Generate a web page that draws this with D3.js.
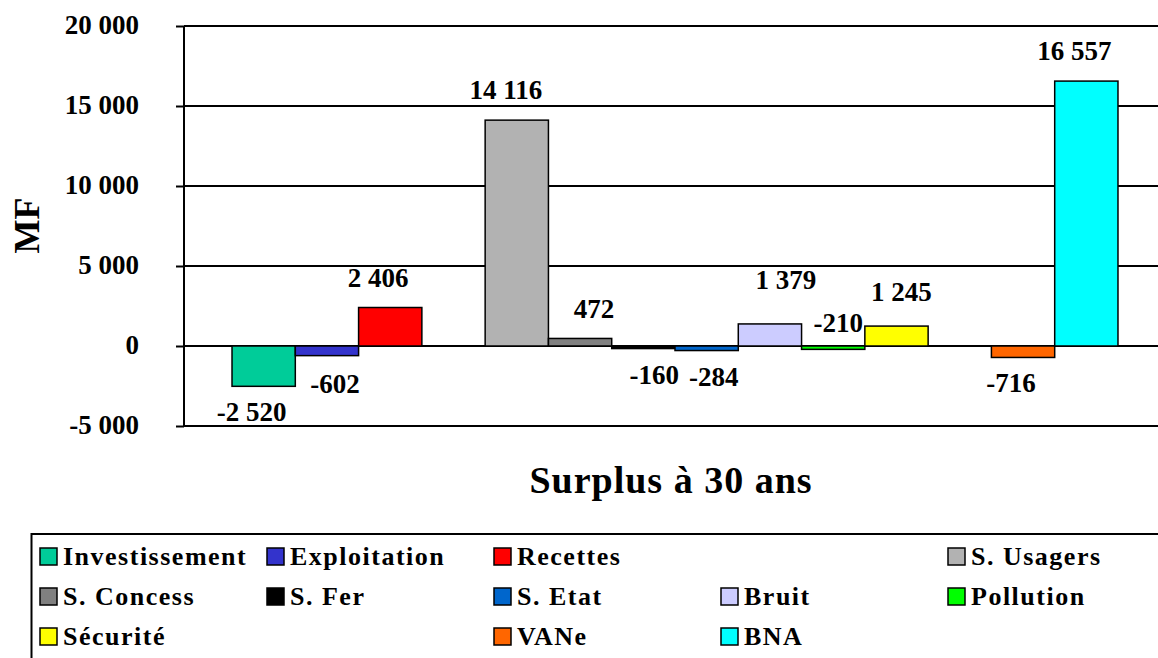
<!DOCTYPE html>
<html>
<head>
<meta charset="utf-8">
<script src="https://cdn.jsdelivr.net/npm/d3@7"></script>
<style>
  svg text { font-family: "Liberation Serif", "Times New Roman", serif !important; font-weight: 700; }
</style>
</head>
<body style="margin:0">
<svg id="chart" width="1158" height="658" font-family="Liberation Serif, serif"></svg>
<script>
// ---- data ----
const categories = ["Surplus à 30 ans"];
const seriesNames = ["Investissement", "Exploitation", "Recettes", "", "S. Usagers",
                     "S. Concess", "S. Fer", "S. Etat", "Bruit", "Pollution",
                     "Sécurité", "", "VANe", "BNA"];
const seriesValues = [-2520, -602, 2406, null, 14116,
                      472, -160, -284, 1379, -210,
                      1245, null, -716, 16557];
const seriesColors = ["#00CC99", "#3333CC", "#FF0000", null, "#B2B2B2",
                      "#808080", "#000000", "#0066CC", "#CCCCFF", "#00FF00",
                      "#FFFF00", null, "#FF6600", "#00FFFF"];
const yTicks = [-5000, 0, 5000, 10000, 15000, 20000];
const yTitle = "MF";
// label nudges (dx, dy) as placed in the original
const labelNudge = [[-12, 0], [8, 2], [-12, 0], null, [-11, 0],
                    [14, 1], [11, 0], [7, 0], [16, -14], [5, -52],
                    [5, -4], null, [-12, 0], [-12, 0]];

// ---- layout ----
const svg = d3.select("#chart");
const plotLeft = 184, plotRight = 1166, plotTop = 26, plotBottom = 426;

const fr = d3.formatLocale({decimal: ",", thousands: "\u00a0", grouping: [3], currency: ["", ""], minus: "-"});
const fmt = fr.format(",d");

const y = d3.scaleLinear().domain([-5000, 20000]).range([plotBottom, plotTop]);
const x0 = d3.scaleBand().domain(categories).range([plotLeft, plotRight])
  .paddingInner(0).paddingOuter(0.0542);
const idx = d3.range(seriesNames.length);
const x1 = d3.scaleBand().domain(idx).range([0, x0.bandwidth()]).padding(0);

function serifText(sel) {
  return sel.attr("font-family", "Liberation Serif")
    .style("font-family", "'Liberation Serif'")
    .attr("font-weight", "bold").attr("fill", "#000");
}

// gridlines
svg.append("g").selectAll("line").data(yTicks).join("line")
  .attr("x1", plotLeft).attr("x2", 1158)
  .attr("y1", d => y(d)).attr("y2", d => y(d))
  .attr("stroke", "#000").attr("stroke-width", 2);

// axis
const axis = d3.axisLeft(y).tickValues(yTicks).tickSize(8).tickPadding(37).tickFormat(fmt);
const gAxis = svg.append("g").attr("transform", `translate(${plotLeft},0)`).call(axis);
gAxis.attr("font-family", "Liberation Serif").attr("font-size", 27);
gAxis.select(".domain").attr("stroke", "#000").attr("stroke-width", 2)
  .attr("d", `M0,${plotTop}V${plotBottom}`);
gAxis.selectAll(".tick line").attr("stroke", "#000").attr("stroke-width", 2);
serifText(gAxis.selectAll(".tick text")).attr("font-size", 27).attr("dy", "0.26em");

// bars
const data = idx.filter(i => seriesValues[i] !== null).map(i => ({i, cat: categories[0], v: seriesValues[i]}));
svg.append("g").selectAll("rect").data(data).join("rect")
  .attr("x", d => x0(d.cat) + x1(d.i))
  .attr("width", x1.bandwidth())
  .attr("y", d => y(Math.max(0, d.v)))
  .attr("height", d => Math.abs(y(d.v) - y(0)))
  .attr("fill", d => seriesColors[d.i])
  .attr("stroke", "#000").attr("stroke-width", 1.5);

// labels
serifText(svg.append("g").selectAll("text").data(data).join("text"))
  .attr("x", d => x0(d.cat) + x1(d.i) + x1.bandwidth() / 2 + labelNudge[d.i][0])
  .attr("y", d => (d.v >= 0 ? y(d.v) - 21 : y(d.v) + 35) + labelNudge[d.i][1])
  .attr("text-anchor", "middle")
  .attr("font-size", 27)
  .text(d => fmt(d.v));

// y title
serifText(svg.append("text"))
  .attr("transform", "translate(39,225.5) rotate(-90)")
  .attr("text-anchor", "middle")
  .attr("font-size", 36)
  .text(yTitle);

// x title
serifText(svg.append("text"))
  .attr("x", 671).attr("y", 493)
  .attr("text-anchor", "middle")
  .attr("font-size", 38)
  .attr("letter-spacing", 1)
  .text(categories[0]);

// legend
svg.append("rect")
  .attr("x", 31.5).attr("y", 534).attr("width", 1200).attr("height", 200)
  .attr("fill", "none").attr("stroke", "#000").attr("stroke-width", 2);
const leg = svg.append("g").selectAll("g").data(idx.filter(i => seriesNames[i] !== "")).join("g")
  .attr("transform", i => `translate(${40 + (i % 5) * 227},${556.5 + Math.floor(i / 5) * 40})`);
leg.append("rect")
  .attr("x", 0).attr("y", -8.5).attr("width", 17).attr("height", 17)
  .attr("fill", i => seriesColors[i]).attr("stroke", "#000").attr("stroke-width", 1.5);
serifText(leg.append("text"))
  .attr("x", 23).attr("y", 8.5)
  .attr("font-size", 26)
  .attr("letter-spacing", 1.5)
  .text(i => seriesNames[i]);
</script>
</body>
</html>
